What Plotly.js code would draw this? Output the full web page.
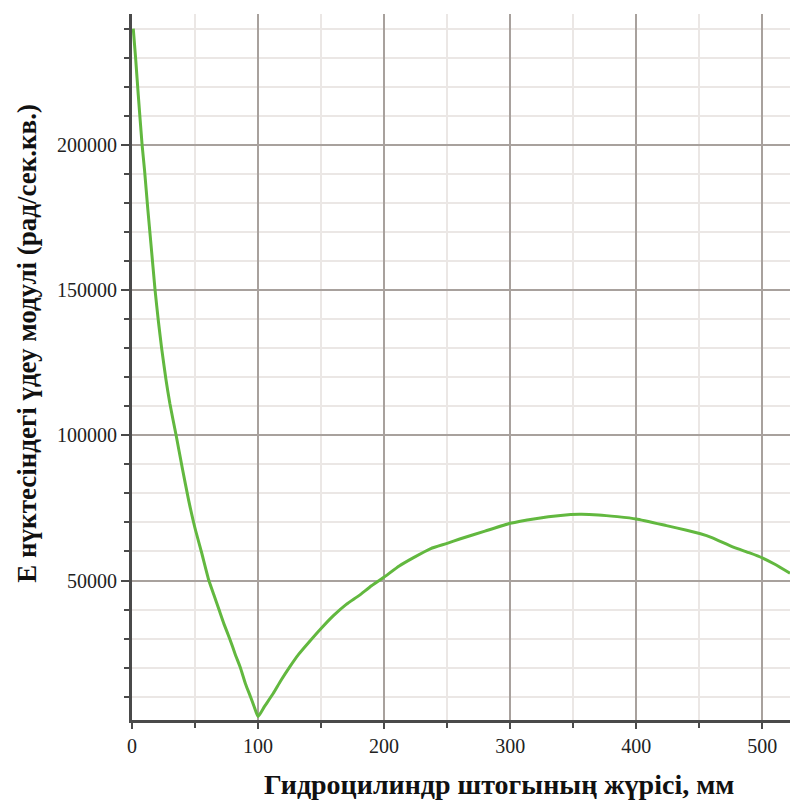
<!DOCTYPE html>
<html>
<head>
<meta charset="utf-8">
<script src="https://cdn.plot.ly/plotly-3.0.1.min.js"></script>
<style>
  html, body { margin: 0; padding: 0; background: #ffffff; }
  #chart { width: 790px; height: 800px; }
</style>
</head>
<body>
<div id="chart"></div>
<script>
// Rod stroke of the hydraulic cylinder, mm
const stroke = [1, 3, 5, 8, 10, 12.5, 15, 18.3, 21, 23.5, 27, 30, 35, 40, 45, 50, 55, 61,
  65, 69, 73, 77.5, 82, 86, 90, 94, 97, 100, 105, 112, 118, 125, 132, 140, 150, 160,
  170, 180, 190, 200, 212, 223, 237, 250, 260, 280, 300, 320, 340, 355, 370, 385, 400,
  424, 440, 451, 460, 477, 490, 500, 510, 522];

// Acceleration modulus at point E, rad/s^2
const accel = [240000, 229000, 217000, 200000, 191000, 178000, 166000, 150000, 139000,
  130000, 119000, 111000, 100000, 88500, 77500, 68000, 60000, 50000,
  45000, 40000, 35000, 30000, 24500, 20000, 14500, 10000, 6500, 3200, 6600, 11100,
  15500, 20200, 24500, 28600, 33500, 38000, 41800, 44800, 48200, 51200, 55000, 57800,
  61000, 62800, 64300, 67000, 69700, 71300, 72400, 72800, 72600, 72000, 71200,
  68900, 67300, 66100, 64800, 61500, 59500, 57800, 55600, 52500];

const xTicks = [0, 100, 200, 300, 400, 500];
const yTicks = [50000, 100000, 150000, 200000];

const xTitle = 'Гидроцилиндр штогының жүрісі, мм';
const yTitle = 'Е нүктесіндегі үдеу модулі (рад/сек.кв.)';

const serif = '"Liberation Serif", "DejaVu Serif", serif';
const majorGrid = '#a8a19d';
const minorGrid = '#ebe7e5';
const axisColor = '#4a4a4a';

const trace = {
  x: stroke,
  y: accel,
  type: 'scatter',
  mode: 'lines',
  line: { color: '#62b83f', width: 3, shape: 'spline', smoothing: 0.5 },
  hoverinfo: 'x+y'
};

const layout = {
  width: 790,
  height: 800,
  margin: { l: 132, r: 0, t: 14, b: 80 },
  paper_bgcolor: '#ffffff',
  plot_bgcolor: '#ffffff',
  showlegend: false,
  font: { family: serif, color: '#222222', size: 19 },
  xaxis: {
    range: [0, 522],
    tickmode: 'array',
    tickvals: xTicks,
    ticktext: xTicks.map(String),
    ticks: 'outside',
    ticklen: 6,
    tickwidth: 2,
    tickcolor: axisColor,
    showgrid: true,
    gridcolor: majorGrid,
    gridwidth: 2,
    zeroline: false,
    showline: true,
    linecolor: axisColor,
    linewidth: 3,
    tickfont: { family: serif, size: 20, color: '#222222' },
    minor: { dtick: 50, tick0: 0, showgrid: true, gridcolor: minorGrid, gridwidth: 2,
             ticks: 'outside', ticklen: 5, tickwidth: 2, tickcolor: axisColor }
  },
  yaxis: {
    range: [2000, 245000],
    tickmode: 'array',
    tickvals: yTicks,
    ticktext: yTicks.map(String),
    ticks: 'outside',
    ticklen: 8,
    tickwidth: 2,
    tickcolor: axisColor,
    showgrid: true,
    gridcolor: majorGrid,
    gridwidth: 2,
    zeroline: false,
    showline: true,
    linecolor: axisColor,
    linewidth: 3,
    tickfont: { family: serif, size: 20, color: '#222222' },
    minor: { dtick: 10000, tick0: 0, showgrid: true, gridcolor: minorGrid, gridwidth: 2,
             ticks: 'outside', ticklen: 5, tickwidth: 2, tickcolor: axisColor }
  },
  annotations: [
    {
      text: '<b>' + xTitle + '</b>',
      xref: 'paper', yref: 'paper',
      x: 0.557, y: -0.092,
      xanchor: 'center', yanchor: 'middle',
      showarrow: false,
      font: { family: serif, size: 28, color: '#111111' }
    },
    {
      text: '<b>' + yTitle + '</b>',
      xref: 'paper', yref: 'paper',
      x: -0.16, y: 0.534,
      xanchor: 'center', yanchor: 'middle',
      textangle: -90,
      showarrow: false,
      font: { family: serif, size: 27, color: '#111111' }
    }
  ]
};

Plotly.newPlot('chart', [trace], layout, { staticPlot: true, displayModeBar: false });
</script>
</body>
</html>
